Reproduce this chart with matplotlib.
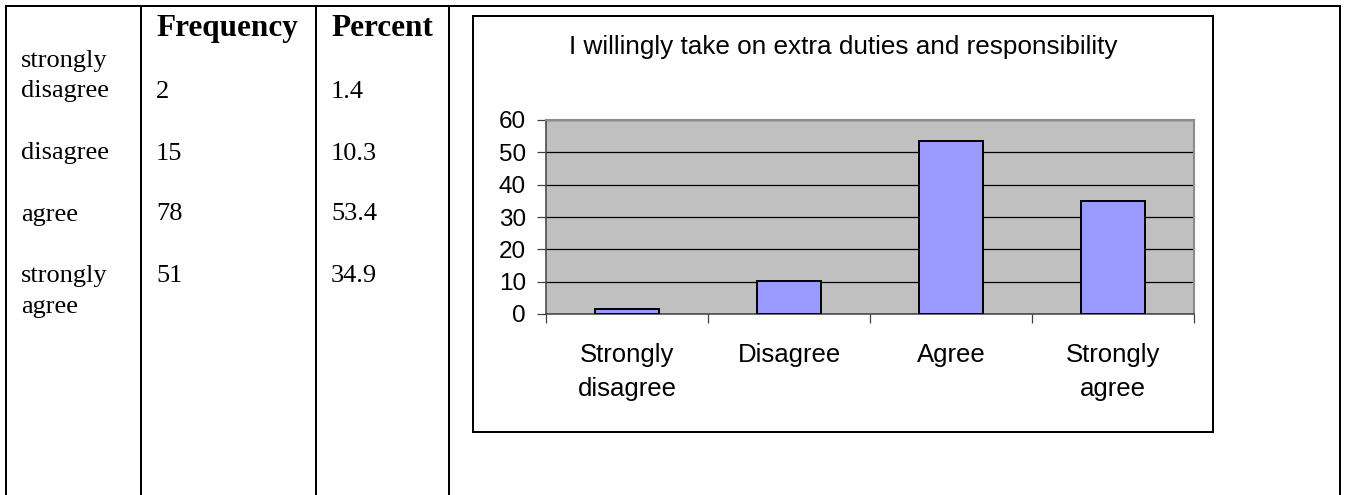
import matplotlib.pyplot as plt
from matplotlib.lines import Line2D
from matplotlib.patches import Rectangle

# Data
categories = ["Strongly\ndisagree", "Disagree", "Agree", "Strongly\nagree"]
percent = [1.4, 10.3, 53.4, 34.9]
table_labels = ["strongly\ndisagree", "disagree", "agree", "strongly\nagree"]
frequency = [2, 15, 78, 51]
table_headers = ["Frequency", "Percent"]
title = "I willingly take on extra duties and responsibility"
yticks = [0, 10, 20, 30, 40, 50, 60]

W, H = 1345, 495
fig = plt.figure(figsize=(W / 100, H / 100), dpi=100)


def fx(px):
    return px / W


def fy(py):
    return 1 - py / H


serif = "Liberation Serif"
sans = "Liberation Sans"

# Table grid lines (Word table look)
lw_px = 2 * 0.72
fig.add_artist(Line2D([fx(6), fx(1340)], [fy(6), fy(6)], color="black",
                      lw=lw_px, transform=fig.transFigure))
for xv in [6, 141, 316, 449, 1340]:
    fig.add_artist(Line2D([fx(xv), fx(xv)], [fy(6), fy(495)], color="black",
                          lw=lw_px, transform=fig.transFigure))

# Table headers
fig.text(fx(156), fy(36), table_headers[0], fontfamily=serif, fontweight="bold",
         fontsize=22.5, va="baseline", ha="left")
fig.text(fx(331), fy(36), table_headers[1], fontfamily=serif, fontweight="bold",
         fontsize=22.5, va="baseline", ha="left")

# Table body (label baseline = last line of the cell)
label_y = [97.5, 159.5, 220.5, 312.5]
value_y = [97.5, 159.5, 220.5, 281.5]
for lab, ly, vy, fr, pc in zip(table_labels, label_y, value_y, frequency, percent):
    fig.text(fx(21), fy(ly), lab, fontfamily=serif, fontsize=19,
             va="baseline", ha="left", linespacing=1.5)
    fig.text(fx(156), fy(vy), str(fr), fontfamily=serif, fontsize=19,
             va="baseline", ha="left")
    fig.text(fx(331), fy(vy), f"{pc}", fontfamily=serif, fontsize=19,
             va="baseline", ha="left")

# Chart frame
fig.add_artist(Rectangle((fx(473), fy(432)), fx(1213) - fx(473), fy(16) - fy(432),
                         fill=False, edgecolor="black", lw=lw_px,
                         transform=fig.transFigure))

fig.text(fx(843), fy(54), title, fontfamily=sans, fontsize=18.8,
         ha="center", va="baseline")

# Plot area
ax = fig.add_axes([fx(546), fy(314), fx(1194) - fx(546), fy(120) - fy(314)])
ax.set_facecolor("#C0C0C0")
x = list(range(len(categories)))
ax.bar(x, percent, width=0.4, color="#9999FF", edgecolor="black",
       linewidth=1.4, zorder=3)

ax.set_xlim(-0.5, len(categories) - 0.5)
ax.set_ylim(0, 60)
ax.set_yticks(yticks)
ax.set_yticklabels([str(v) for v in yticks], fontfamily=sans, fontsize=17.5)
ax.yaxis.grid(True, color="black", linewidth=0.9, zorder=1)
ax.set_axisbelow(True)

ax.set_xticks(x)
ax.set_xticklabels(categories, fontfamily=sans, fontsize=18.5, linespacing=1.5)
ax.set_xticks([i - 0.5 for i in range(len(categories) + 1)], minor=True)
ax.tick_params(axis="x", which="major", length=0, pad=21)
ax.tick_params(axis="x", which="minor", length=6.5, width=0.9,
               color="#404040", direction="out")
ax.tick_params(axis="y", length=6.5, width=0.9, color="#404040",
               direction="out", pad=8)

for side in ["top", "right"]:
    ax.spines[side].set_color("#8C8C8C")
    ax.spines[side].set_linewidth(1.5)
for side in ["left", "bottom"]:
    ax.spines[side].set_color("#404040")
    ax.spines[side].set_linewidth(1.1)

fig.savefig("out.png", dpi=100)
